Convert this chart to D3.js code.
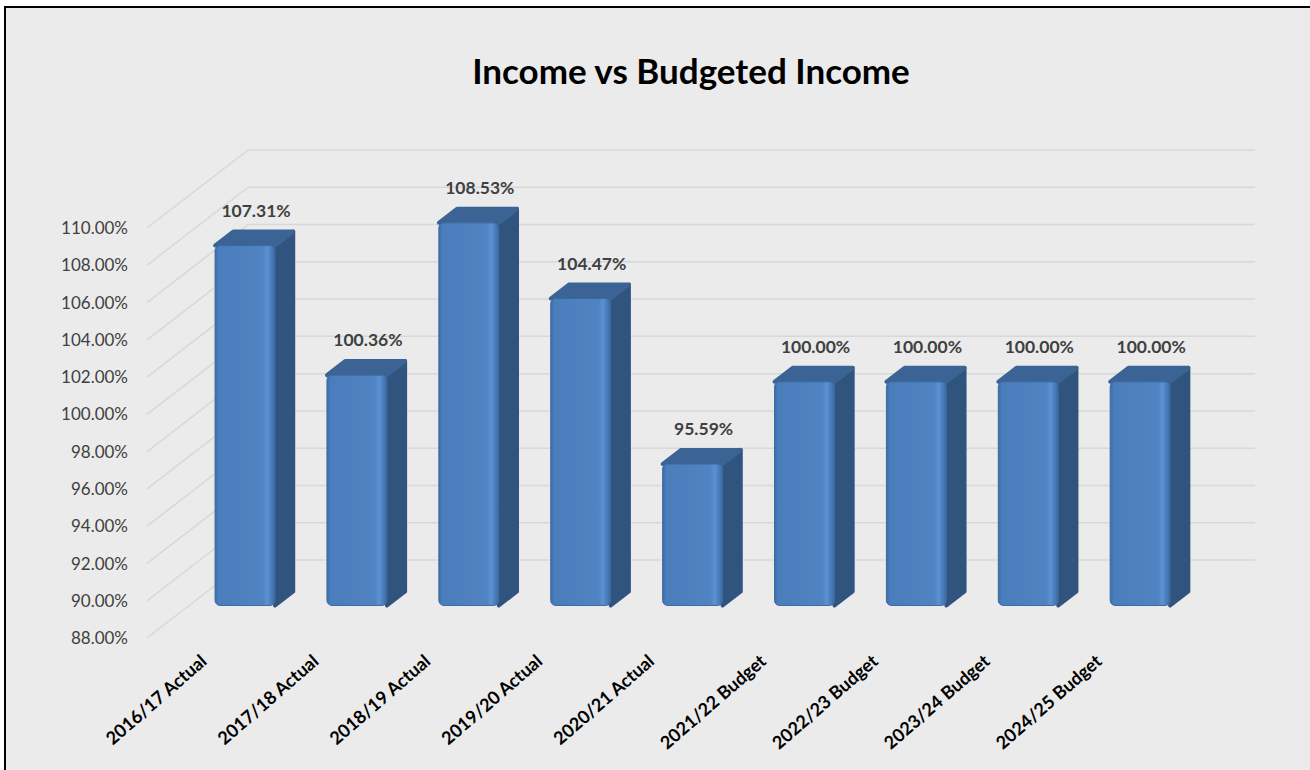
<!DOCTYPE html>
<html>
<head>
<meta charset="utf-8">
<script src="https://cdn.jsdelivr.net/npm/d3@7"></script>
<style>
  html, body { margin: 0; padding: 0; background: #ffffff; }
  svg { display: block; }
</style>
</head>
<body>
<svg id="chart" width="1310" height="770"></svg>
<script>
// Income as a share of budgeted income, per financial year
const categories = [
  "2016/17 Actual", "2017/18 Actual", "2018/19 Actual", "2019/20 Actual",
  "2020/21 Actual", "2021/22 Budget", "2022/23 Budget", "2023/24 Budget",
  "2024/25 Budget"
];
const values = [107.31, 100.36, 108.53, 104.47, 95.59, 100.00, 100.00, 100.00, 100.00];
const tickValues = [88, 90, 92, 94, 96, 98, 100, 102, 104, 106, 108, 110];
const chartTitle = "Income vs Budgeted Income";

const W = 1310, H = 770;
const svg = d3.select("#chart");

// oblique projection: full depth of the plot box, and where the bars sit in it
const depth = { dx: 101, dy: -78 };
const barFront = 0.417;   // fraction of depth to the front face of each bar
const barDepth = 0.18;    // fraction of depth taken by each bar

const x = d3.scaleBand()
  .domain(categories)
  .range([147, 1154])
  .paddingInner(0.464)
  .paddingOuter(0.232);

const y = d3.scaleLinear()
  .domain([88, 110])
  .range([638, 228]);

// frame
svg.append("rect").attr("x", 0).attr("y", 0).attr("width", W).attr("height", H).attr("fill", "#ffffff");
svg.append("rect").attr("x", 5).attr("y", 7).attr("width", W - 5).attr("height", H - 7).attr("fill", "#ebebeb");
svg.append("line").attr("x1", 4).attr("x2", W).attr("y1", 7).attr("y2", 7)
  .attr("stroke", "#000").attr("stroke-width", 2);
svg.append("line").attr("x1", 5).attr("x2", 5).attr("y1", 6).attr("y2", H)
  .attr("stroke", "#000").attr("stroke-width", 2);

// title
svg.append("text")
  .attr("x", 691).attr("y", 84)
  .attr("text-anchor", "middle")
  .attr("font-family", "Lato, 'Open Sans', sans-serif")
  .attr("font-weight", 700)
  .attr("font-size", 35)
  .attr("fill", "#000")
  .text(chartTitle);

const [x0, x1] = x.range();
const grid = svg.append("g").attr("stroke", "#d8d8d8").attr("stroke-width", 1.5).attr("fill", "none");

// side wall: receding gridlines from the value axis to the back wall
grid.selectAll("line.side").data(tickValues).join("line")
  .attr("class", "side")
  .attr("x1", x0).attr("y1", d => y(d))
  .attr("x2", x0 + depth.dx).attr("y2", d => y(d) + depth.dy);

// back wall gridlines
grid.selectAll("line.back").data(tickValues).join("line")
  .attr("class", "back")
  .attr("x1", x0 + depth.dx).attr("y1", d => y(d) + depth.dy)
  .attr("x2", x1 + depth.dx).attr("y2", d => y(d) + depth.dy);

// value axis labels
const fmt = d3.format(".2f");
svg.append("g").selectAll("text").data(tickValues).join("text")
  .attr("x", x0 - 19)
  .attr("y", d => y(d))
  .attr("dy", "0.36em")
  .attr("text-anchor", "end")
  .attr("font-family", "Lato, 'Open Sans', sans-serif")
  .attr("font-size", 17)
  .attr("fill", "#404040")
  .text(d => fmt(d) + "%");

// bar shading
const defs = svg.append("defs");
const grad = defs.append("linearGradient").attr("id", "barFront")
  .attr("x1", "0%").attr("x2", "100%").attr("y1", "0%").attr("y2", "0%");
[
  [0, "#3e6da8"], [0.06, "#4a7dbc"], [0.5, "#4f81bf"], [0.8, "#5083c2"],
  [0.87, "#5b92d4"], [0.93, "#4c7fbd"], [1, "#3c69a3"]
].forEach(([o, c]) => grad.append("stop").attr("offset", o).attr("stop-color", c));

const bw = x.bandwidth();
const fdx = depth.dx * barFront, fdy = depth.dy * barFront;
const bdx = depth.dx * barDepth, bdy = depth.dy * barDepth;

const bars = svg.append("g").selectAll("g").data(categories.map((c, i) => ({ c, v: values[i] }))).join("g");

bars.each(function (d) {
  const g = d3.select(this);
  const xl = x(d.c) + fdx, xr = xl + bw;
  const yt = y(d.v) + fdy, yb = y(88) + fdy;
  // right side face
  g.append("path")
    .attr("d", `M${xr},${yt} L${xr + bdx},${yt + bdy} L${xr + bdx},${yb + bdy} L${xr},${yb} Z`)
    .attr("fill", "#31547e").attr("stroke", "#31547e").attr("stroke-width", 4)
    .attr("stroke-linejoin", "round");
  // top face
  g.append("path")
    .attr("d", `M${xl},${yt} L${xl + bdx},${yt + bdy} L${xr + bdx},${yt + bdy} L${xr},${yt} Z`)
    .attr("fill", "#3b6495").attr("stroke", "#3b6495").attr("stroke-width", 4)
    .attr("stroke-linejoin", "round");
  // front face
  g.append("rect")
    .attr("x", xl).attr("y", yt).attr("width", bw).attr("height", yb - yt)
    .attr("rx", 5).attr("ry", 5)
    .attr("fill", "url(#barFront)")
    .attr("stroke", "#3b69a2").attr("stroke-width", 1);
  // value label
  g.append("text")
    .attr("x", xl + bw / 2 + 11)
    .attr("y", yt - 29)
    .attr("text-anchor", "middle")
    .attr("font-family", "Lato, 'Open Sans', sans-serif")
    .attr("font-weight", 700)
    .attr("font-size", 17.5)
    .attr("fill", "#404040")
    .text(fmt(d.v) + "%");
});

// category labels
svg.append("g").selectAll("text").data(categories).join("text")
  .attr("transform", d => `translate(${x(d) + bw / 2 + 5},${y(88) + 25}) rotate(-41)`)
  .attr("text-anchor", "end")
  .attr("font-family", "Lato, 'Open Sans', sans-serif")
  .attr("font-weight", 700)
  .attr("font-size", 18)
  .attr("fill", "#000")
  .text(d => d);
</script>
</body>
</html>
